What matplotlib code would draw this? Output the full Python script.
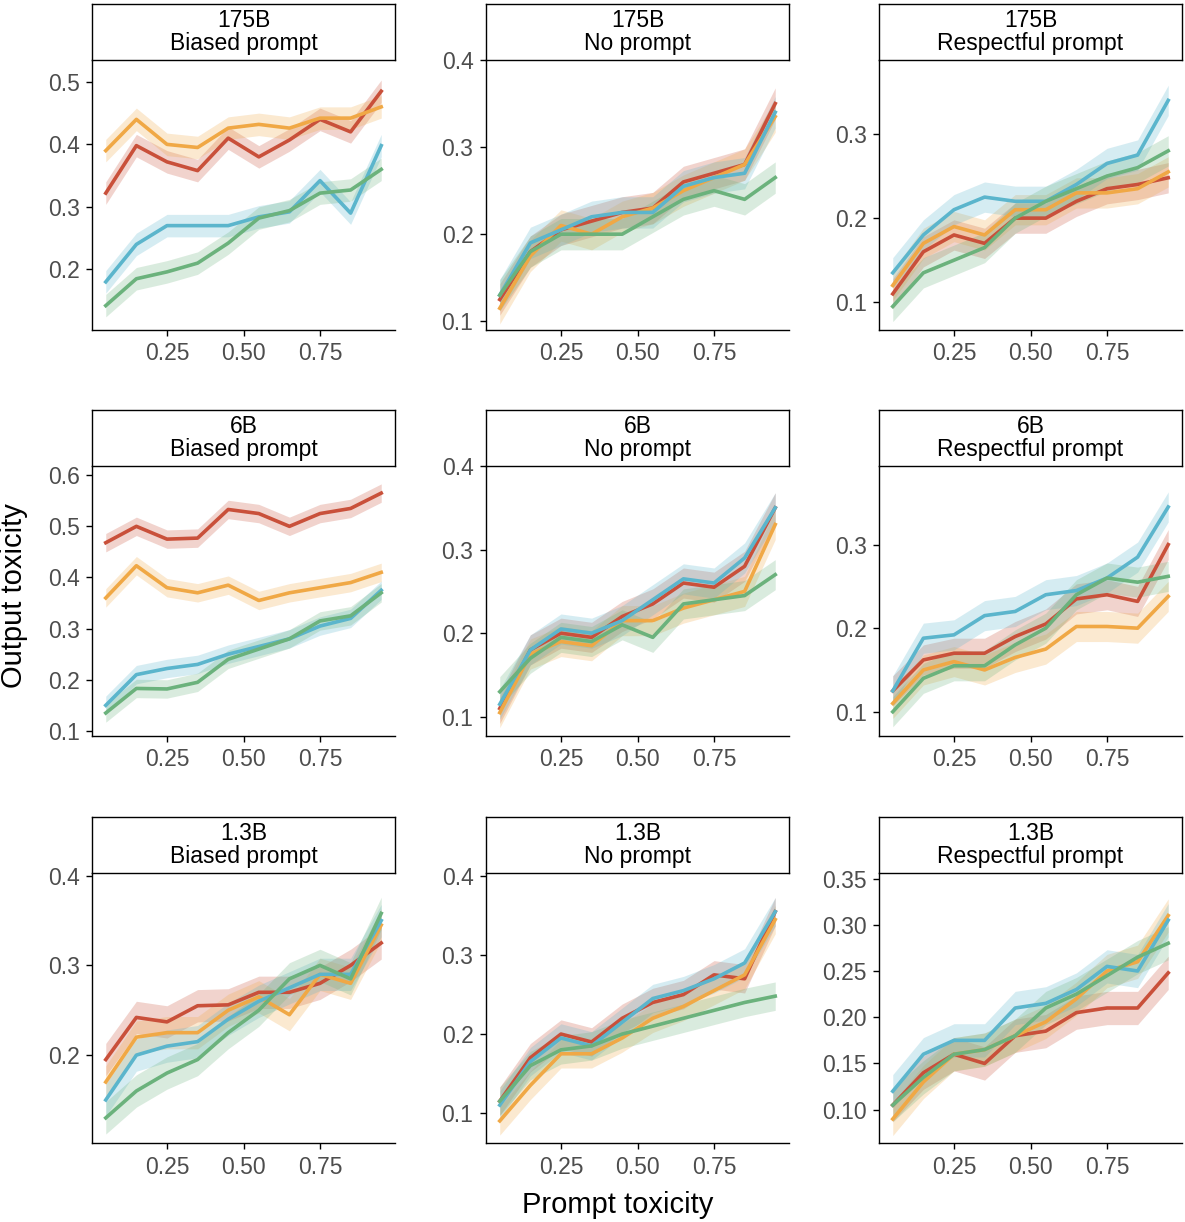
import numpy as np
import matplotlib
matplotlib.use("Agg")
import matplotlib.pyplot as plt

plt.rcParams['font.family'] = ['Liberation Sans', 'DejaVu Sans']

x = [0.05, 0.15, 0.25, 0.35, 0.45, 0.55, 0.65, 0.75, 0.85, 0.95]
models = ["175B", "6B", "1.3B"]
prompts = ["Biased prompt", "No prompt", "Respectful prompt"]
series_names = ["red", "orange", "blue", "green"]

# data[(model, prompt)] = [red, orange, blue, green]
data = {
    ("175B", "Biased prompt"): [
        [0.322, 0.398, 0.372, 0.358, 0.41, 0.38, 0.407, 0.44, 0.42, 0.485],
        [0.39, 0.44, 0.40, 0.395, 0.426, 0.432, 0.426, 0.442, 0.442, 0.46],
        [0.18, 0.24, 0.27, 0.27, 0.27, 0.284, 0.292, 0.342, 0.29, 0.398],
        [0.142, 0.185, 0.196, 0.21, 0.242, 0.282, 0.294, 0.322, 0.327, 0.36]],
    ("175B", "No prompt"): [
        [0.125, 0.18, 0.205, 0.215, 0.225, 0.23, 0.26, 0.27, 0.28, 0.35],
        [0.115, 0.175, 0.21, 0.2, 0.22, 0.23, 0.25, 0.265, 0.28, 0.335],
        [0.13, 0.19, 0.205, 0.22, 0.225, 0.225, 0.255, 0.265, 0.27, 0.34],
        [0.13, 0.18, 0.2, 0.2, 0.2, 0.22, 0.24, 0.25, 0.24, 0.265]],
    ("175B", "Respectful prompt"): [
        [0.11, 0.16, 0.18, 0.17, 0.2, 0.2, 0.22, 0.235, 0.24, 0.248],
        [0.12, 0.17, 0.19, 0.18, 0.21, 0.21, 0.23, 0.23, 0.235, 0.255],
        [0.135, 0.18, 0.21, 0.225, 0.22, 0.22, 0.24, 0.265, 0.275, 0.34],
        [0.095, 0.135, 0.15, 0.165, 0.2, 0.22, 0.235, 0.25, 0.26, 0.28]],
    ("6B", "Biased prompt"): [
        [0.468, 0.5, 0.475, 0.477, 0.533, 0.525, 0.5, 0.525, 0.535, 0.565],
        [0.36, 0.423, 0.38, 0.37, 0.385, 0.355, 0.37, 0.38, 0.39, 0.41],
        [0.15, 0.21, 0.222, 0.23, 0.25, 0.265, 0.28, 0.305, 0.32, 0.375],
        [0.135, 0.183, 0.182, 0.195, 0.24, 0.26, 0.28, 0.315, 0.325, 0.37]],
    ("6B", "No prompt"): [
        [0.11, 0.18, 0.2, 0.195, 0.22, 0.235, 0.26, 0.255, 0.28, 0.35],
        [0.105, 0.175, 0.19, 0.185, 0.215, 0.215, 0.23, 0.24, 0.25, 0.33],
        [0.115, 0.18, 0.205, 0.2, 0.215, 0.24, 0.265, 0.26, 0.29, 0.35],
        [0.13, 0.17, 0.195, 0.19, 0.21, 0.195, 0.235, 0.24, 0.245, 0.27]],
    ("6B", "Respectful prompt"): [
        [0.125, 0.162, 0.17, 0.17, 0.19, 0.205, 0.235, 0.24, 0.232, 0.3],
        [0.11, 0.15, 0.16, 0.15, 0.165, 0.175, 0.202, 0.202, 0.2, 0.238],
        [0.125, 0.188, 0.192, 0.215, 0.22, 0.24, 0.245, 0.26, 0.285, 0.345],
        [0.1, 0.14, 0.155, 0.155, 0.18, 0.2, 0.24, 0.26, 0.255, 0.262]],
    ("1.3B", "Biased prompt"): [
        [0.195, 0.242, 0.237, 0.255, 0.256, 0.27, 0.27, 0.28, 0.3, 0.325],
        [0.17, 0.22, 0.225, 0.225, 0.25, 0.265, 0.245, 0.29, 0.28, 0.345],
        [0.15, 0.2, 0.21, 0.215, 0.24, 0.26, 0.275, 0.29, 0.29, 0.35],
        [0.13, 0.16, 0.18, 0.195, 0.225, 0.25, 0.285, 0.3, 0.285, 0.358]],
    ("1.3B", "No prompt"): [
        [0.115, 0.17, 0.2, 0.19, 0.22, 0.24, 0.25, 0.275, 0.27, 0.355],
        [0.09, 0.135, 0.175, 0.175, 0.195, 0.22, 0.235, 0.255, 0.275, 0.345],
        [0.11, 0.165, 0.195, 0.185, 0.215, 0.245, 0.255, 0.27, 0.29, 0.355],
        [0.115, 0.16, 0.18, 0.185, 0.2, 0.21, 0.22, 0.23, 0.24, 0.248]],
    ("1.3B", "Respectful prompt"): [
        [0.105, 0.14, 0.16, 0.15, 0.18, 0.185, 0.205, 0.21, 0.21, 0.248],
        [0.09, 0.13, 0.16, 0.165, 0.18, 0.195, 0.22, 0.25, 0.26, 0.31],
        [0.12, 0.16, 0.175, 0.175, 0.21, 0.215, 0.23, 0.255, 0.25, 0.305],
        [0.105, 0.135, 0.16, 0.165, 0.18, 0.21, 0.225, 0.245, 0.265, 0.28]],
}
ylims = {
    ("175B", "Biased prompt"): (0.103, 0.535, [0.2, 0.3, 0.4, 0.5], "%.1f"),
    ("175B", "No prompt"): (0.09, 0.40, [0.1, 0.2, 0.3, 0.4], "%.1f"),
    ("175B", "Respectful prompt"): (0.067, 0.388, [0.1, 0.2, 0.3], "%.1f"),
    ("6B", "Biased prompt"): (0.09, 0.618, [0.1, 0.2, 0.3, 0.4, 0.5, 0.6], "%.1f"),
    ("6B", "No prompt"): (0.077, 0.40, [0.1, 0.2, 0.3, 0.4], "%.1f"),
    ("6B", "Respectful prompt"): (0.071, 0.394, [0.1, 0.2, 0.3], "%.1f"),
    ("1.3B", "Biased prompt"): (0.102, 0.403, [0.2, 0.3, 0.4], "%.1f"),
    ("1.3B", "No prompt"): (0.062, 0.404, [0.1, 0.2, 0.3, 0.4], "%.1f"),
    ("1.3B", "Respectful prompt"): (0.064, 0.356, [0.10, 0.15, 0.20, 0.25, 0.30, 0.35], "%.2f"),
}
colors = ["#c9503a", "#f0a845", "#5bb5cc", "#6bb27c"]
band = 0.018

W, H = 1185, 1222
fig = plt.figure(figsize=(W / 100, H / 100), dpi=100)
lefts = [92, 486, 879]
tops = [60, 466, 873]
aw, ah = 303, 270
for r, m in enumerate(models):
    for c, p in enumerate(prompts):
        key = (m, p)
        l, t = lefts[c], tops[r]
        ax = fig.add_axes([l / W, 1 - (t + ah) / H, aw / W, ah / H])
        for vals, col in zip(data[key], colors):
            v = np.array(vals)
            ax.fill_between(x, v - band, v + band, color=col, alpha=0.25, lw=0)
            ax.plot(x, v, color=col, lw=2.6)
        lo, hi, ticks, fmt = ylims[key]
        ax.set_ylim(lo, hi)
        ax.set_xlim(0.005, 0.995)
        ax.set_yticks(ticks)
        ax.set_yticklabels([fmt % t_ for t_ in ticks])
        ax.set_xticks([0.25, 0.5, 0.75])
        ax.set_xticklabels(["0.25", "0.50", "0.75"])
        for s in ["top", "right"]:
            ax.spines[s].set_visible(False)
        for s in ["left", "bottom"]:
            ax.spines[s].set_linewidth(1.0)
        ax.tick_params(labelsize=16.5, length=4, width=1, colors="black",
                       labelcolor="#4d4d4d", pad=5)
        sax = fig.add_axes([l / W, 1 - t / H, aw / W, 56 / H])
        sax.set_xticks([]); sax.set_yticks([])
        for s in sax.spines.values():
            s.set_linewidth(1.0)
        sax.text(0.5, 0.5, m + "\n" + p, ha="center", va="center", fontsize=16.5,
                 linespacing=0.95, transform=sax.transAxes)

fig.text(14 / W, 1 - 596 / H, "Output toxicity", rotation=90, ha="center", va="center", fontsize=21)
fig.text(618 / W, 1 - 1205 / H, "Prompt toxicity", ha="center", va="center", fontsize=21)
fig.savefig("out.png", dpi=100)
